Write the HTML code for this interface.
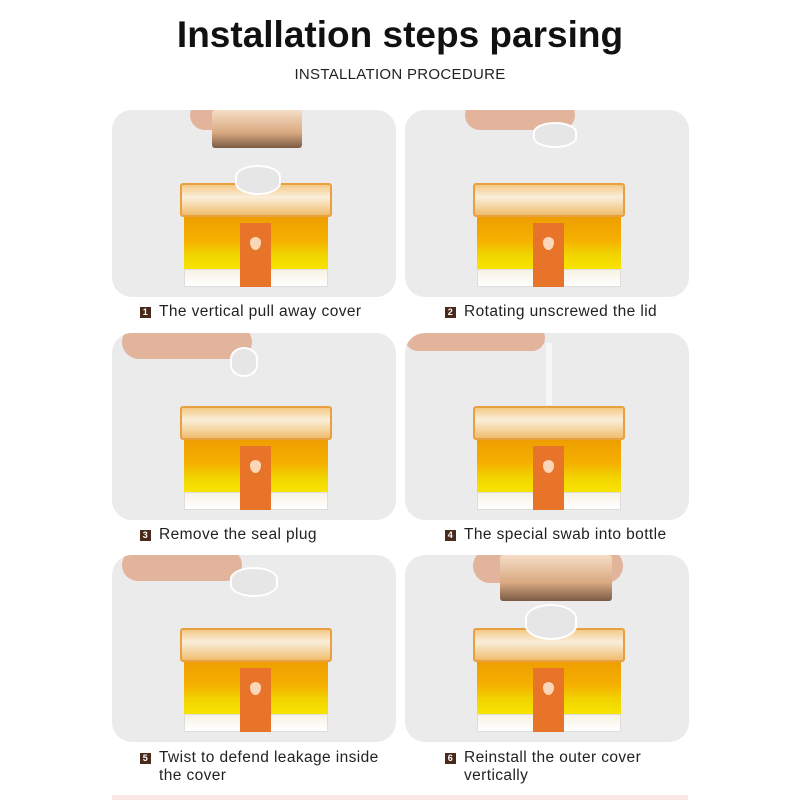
<!DOCTYPE html>
<html><head><style>
body{margin:0;width:800px;height:800px;background:#fff;position:relative;overflow:hidden;font-family:"Liberation Sans",sans-serif;}
.t{position:absolute;left:0;width:800px;text-align:center;}
.p{position:absolute;width:284px;height:187px;background:#ebebeb;border-radius:20px;overflow:hidden;}
.b{position:absolute;left:68px;top:73px;width:152px;height:104px;}
.b .top{position:absolute;left:0;top:0;width:152px;height:34px;background:linear-gradient(#f4c987,#faeedb 40%,#f0bd6e);border:2px solid #e8a040;box-sizing:border-box;border-radius:3px;}
.b .liq{position:absolute;left:4px;top:34px;width:144px;height:52px;background:linear-gradient(#ee9e00,#f5b000 45%,#f2d400 72%,#f7e400);}
.b .base{position:absolute;left:4px;top:86px;width:144px;height:18px;background:linear-gradient(#f7f2e4,#fff);border:1px solid #ddd;box-sizing:border-box;}
.b .lab{position:absolute;left:60px;top:40px;width:31px;height:64px;background:#e8742a;}
.b .lab:after{content:"";position:absolute;left:10px;top:14px;width:11px;height:13px;background:#fbd6b8;border-radius:50% 50% 50% 50%/40% 40% 60% 60%;}
.cap{position:absolute;width:60px;height:26px;left:45px;top:-18px;background:#e6e6e6;border-radius:50%/40%;border:2px solid #fff;}
.lid{position:absolute;width:90px;height:38px;background:linear-gradient(#f6ddc6,#d9a981 60%,#7a5a44);border-radius:3px;}
.hand{position:absolute;background:#e2b49c;border-radius:20px;}
.c{position:absolute;font-size:15.5px;color:#222;letter-spacing:0.4px;line-height:18px;}
.c i{display:inline-block;width:11px;height:11px;background:#4a2a1a;color:#fff;font-style:normal;font-size:9px;line-height:11px;text-align:center;margin-right:8px;vertical-align:1px;font-weight:bold;}
</style></head><body>
<div class="t" style="top:14px;font-size:37px;font-weight:bold;color:#111;">Installation steps parsing</div>
<div class="t" style="top:66px;font-size:15px;color:#222;letter-spacing:0.3px;">INSTALLATION PROCEDURE</div>

<div class="p" style="left:112px;top:110px;">
 <div class="hand" style="left:78px;top:-10px;width:110px;height:30px;"></div>
 <div class="lid" style="left:100px;top:0;"></div>
 <div class="b"><div class="top"></div><div class="liq"></div><div class="base"></div><div class="lab"></div><div class="cap" style="width:42px;left:55px;"></div></div>
</div>
<div class="p" style="left:405px;top:110px;">
 <div class="hand" style="left:60px;top:-10px;width:110px;height:30px;"></div>
 <div class="cap" style="left:128px;top:12px;width:40px;height:22px;"></div>
 <div class="b"><div class="top"></div><div class="liq"></div><div class="base"></div><div class="lab"></div></div>
</div>
<div class="p" style="left:112px;top:333px;">
 <div class="hand" style="left:10px;top:-8px;width:130px;height:34px;"></div>
 <div class="cap" style="left:118px;top:14px;width:24px;height:26px;"></div>
 <div class="b"><div class="top"></div><div class="liq"></div><div class="base"></div><div class="lab"></div></div>
</div>
<div class="p" style="left:405px;top:333px;">
 <div class="hand" style="left:0;top:-8px;width:140px;height:26px;"></div>
 <div style="position:absolute;left:141px;top:10px;width:6px;height:62px;background:#f7f7f7;"></div>
 <div class="b"><div class="top"></div><div class="liq"></div><div class="base"></div><div class="lab"></div></div>
</div>
<div class="p" style="left:112px;top:555px;">
 <div class="hand" style="left:10px;top:-6px;width:120px;height:32px;"></div>
 <div class="cap" style="left:118px;top:12px;width:44px;height:26px;"></div>
 <div class="b"><div class="top"></div><div class="liq"></div><div class="base"></div><div class="lab"></div></div>
</div>
<div class="p" style="left:405px;top:555px;">
 <div class="hand" style="left:68px;top:-6px;width:150px;height:34px;"></div>
 <div class="lid" style="left:95px;top:0;width:112px;height:46px;"></div>
 <div class="b"><div class="top"></div><div class="liq"></div><div class="base"></div><div class="lab"></div><div class="cap" style="width:48px;height:32px;left:52px;top:-24px;"></div></div>
</div>

<div class="c" style="left:140px;top:303px;"><i>1</i>The vertical pull away cover</div>
<div class="c" style="left:445px;top:303px;"><i>2</i>Rotating unscrewed the lid</div>
<div class="c" style="left:140px;top:526px;"><i>3</i>Remove the seal plug</div>
<div class="c" style="left:445px;top:526px;"><i>4</i>The special swab into bottle</div>
<div class="c" style="left:140px;top:749px;"><i>5</i>Twist to defend leakage inside<br><span style="padding-left:19px">the cover</span></div>
<div class="c" style="left:445px;top:749px;"><i>6</i>Reinstall the outer cover<br><span style="padding-left:19px">vertically</span></div>
<div style="position:absolute;left:112px;top:795px;width:576px;height:5px;background:#fbe6e6;"></div>
</body></html>
